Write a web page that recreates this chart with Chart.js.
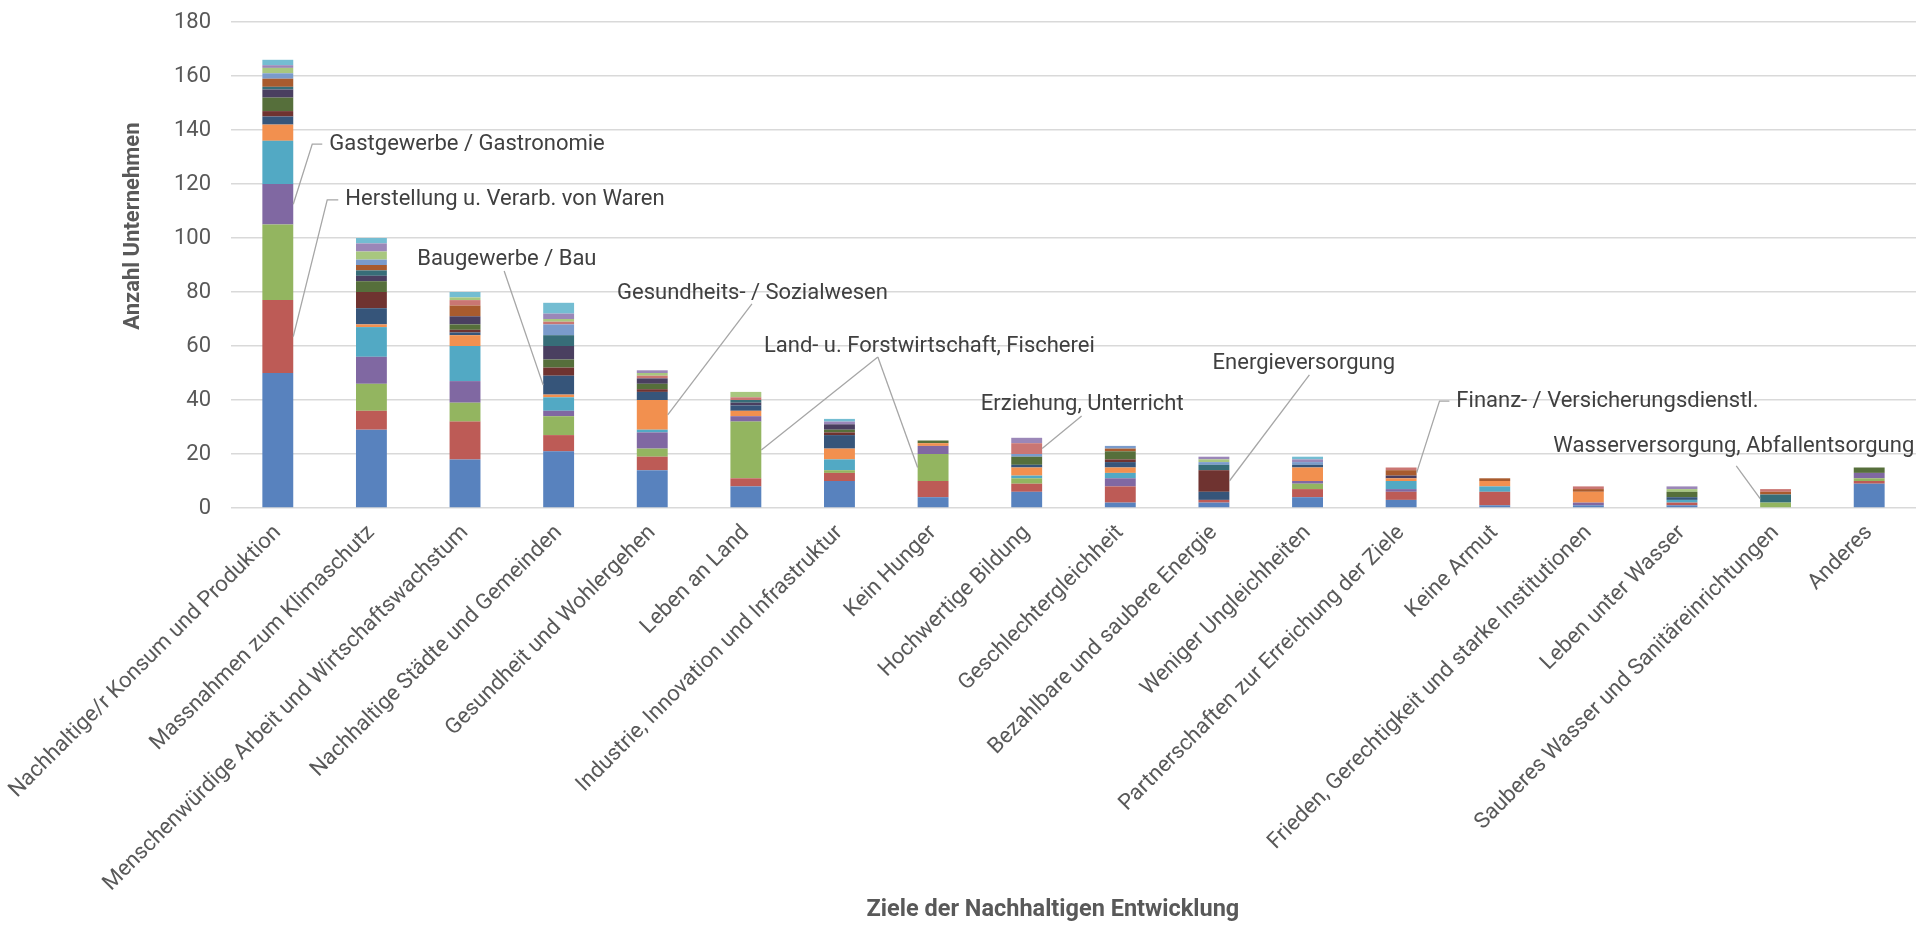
<!DOCTYPE html>
<html>
<head>
<meta charset="utf-8">
<script src="https://cdn.jsdelivr.net/npm/chart.js@4.4.1/dist/chart.umd.min.js"></script>
<style>
  html, body { margin: 0; padding: 0; background: #fff; }
</style>
</head>
<body>
<canvas id="chart" width="1916" height="928"></canvas>
<script>
// Ziele der Nachhaltigen Entwicklung (x axis)
const categories = [
  'Nachhaltige/r Konsum und Produktion',
  'Massnahmen zum Klimaschutz',
  'Menschenwürdige Arbeit und Wirtschaftswachstum',
  'Nachhaltige Städte und Gemeinden',
  'Gesundheit und Wohlergehen',
  'Leben an Land',
  'Industrie, Innovation und Infrastruktur',
  'Kein Hunger',
  'Hochwertige Bildung',
  'Geschlechtergleichheit',
  'Bezahlbare und saubere Energie',
  'Weniger Ungleichheiten',
  'Partnerschaften zur Erreichung der Ziele',
  'Keine Armut',
  'Frieden, Gerechtigkeit und starke Institutionen',
  'Leben unter Wasser',
  'Sauberes Wasser und Sanitäreinrichtungen',
  'Anderes'
];

// one array per industry (stack order bottom -> top)
const branche01     = [50, 29, 18, 21, 14,  8, 10,  4,  6,  2,  2,  4,  3,  1,  1,  1,  0,  9];
const herstellung   = [27,  7, 14,  6,  5,  3,  3,  6,  3,  6,  1,  3,  3,  5,  0,  1,  0,  1];
const landForst     = [28, 10,  7,  7,  3, 21,  1, 10,  2,  0,  0,  2,  0,  0,  0,  0,  2,  1];
const gastgewerbe   = [15, 10,  8,  2,  6,  2,  0,  3,  0,  3,  0,  1,  1,  0,  1,  0,  0,  2];
const branche05     = [16, 11, 13,  5,  1,  0,  4,  0,  1,  2,  0,  0,  3,  2,  0,  1,  0,  0];
const gesundheit    = [ 6,  1,  4,  1, 11,  2,  4,  1,  3,  2,  0,  5,  1,  2,  4,  0,  0,  0];
const baugewerbe    = [ 3,  6,  1,  7,  3,  2,  5,  0,  1,  2,  3,  1,  0,  0,  0,  1,  0,  0];
const energie       = [ 2,  6,  1,  3,  1,  0,  1,  0,  0,  1,  8,  0,  0,  0,  0,  0,  0,  0];
const branche09     = [ 5,  4,  2,  3,  2,  0,  1,  1,  3,  3,  0,  0,  0,  0,  0,  2,  0,  2];
const branche10     = [ 3,  2,  3,  5,  2,  1,  2,  0,  0,  0,  0,  0,  1,  0,  0,  0,  0,  0];
const wasser        = [ 1,  2,  0,  4,  0,  1,  0,  0,  0,  0,  2,  0,  0,  0,  0,  0,  3,  0];
const finanz        = [ 3,  2,  4,  0,  0,  0,  0,  0,  0,  1,  0,  0,  2,  1,  1,  0,  1,  0];
const branche13     = [ 2,  2,  0,  4,  0,  0,  0,  0,  1,  1,  1,  1,  0,  0,  0,  0,  0,  0];
const erziehung     = [ 0,  0,  2,  1,  1,  1,  0,  0,  4,  0,  0,  0,  1,  0,  1,  0,  1,  0];
const branche15     = [ 2,  3,  1,  1,  1,  2,  0,  0,  0,  0,  1,  0,  0,  0,  0,  1,  0,  0];
const branche16     = [ 1,  3,  0,  2,  1,  0,  1,  0,  2,  0,  1,  1,  0,  0,  0,  1,  0,  0];
const branche17     = [ 2,  2,  2,  4,  0,  0,  1,  0,  0,  0,  0,  1,  0,  0,  0,  0,  0,  0];

const seriesNames = [
  'Branche 1', 'Herstellung u. Verarb. von Waren', 'Land- u. Forstwirtschaft, Fischerei',
  'Gastgewerbe / Gastronomie', 'Branche 5', 'Gesundheits- / Sozialwesen', 'Baugewerbe / Bau',
  'Energieversorgung', 'Branche 9', 'Branche 10', 'Wasserversorgung, Abfallentsorgung',
  'Finanz- / Versicherungsdienstl.', 'Branche 13', 'Erziehung, Unterricht', 'Branche 15',
  'Branche 16', 'Branche 17'
];
const seriesValues = [
  branche01, herstellung, landForst, gastgewerbe, branche05, gesundheit, baugewerbe,
  energie, branche09, branche10, wasser, finanz, branche13, erziehung, branche15,
  branche16, branche17
];
const seriesColors = [
  '#5882BE', '#BD5B56', '#93B560', '#8068A2', '#52A9C4', '#F2904F',
  '#36557A', '#6F3330', '#566F3B', '#4A3F60', '#376D78', '#A85B2E',
  '#7A9BCB', '#CA7673', '#A8C77F', '#9B87B8', '#74BDD2'
];

const yTicks = { min: 0, max: 180, step: 20 };
const yTitle = 'Anzahl Unternehmen';
const xTitle = 'Ziele der Nachhaltigen Entwicklung';

// callout labels: series index, bar(s) pointed at, text anchor and leader path (data units)
const callouts = [
  { series: 3,  targets: [{ cat: 0, side: 'right' }], tx: 0.55,  ty: 134.8, path: [[0.368, 134.8], [0.475, 134.8]] },
  { series: 1,  targets: [{ cat: 0, side: 'right' }], tx: 0.721, ty: 114.1, path: [[0.528, 114.1], [0.646, 114.1]] },
  { series: 6,  targets: [{ cat: 3, side: 'left' }],  tx: 1.489, ty: 92.2,  path: [[2.418, 87.8]] },
  { series: 5,  targets: [{ cat: 4, side: 'right' }], tx: 3.624, ty: 79.6,  path: [[5.065, 75.6]] },
  { series: 2,  targets: [{ cat: 5, side: 'right' }, { cat: 7, side: 'left' }], tx: 5.193, ty: 60, path: [[6.41, 55.9]] },
  { series: 13, targets: [{ cat: 8, side: 'right' }], tx: 7.51,  ty: 38.5,  path: [[8.587, 34.1]] },
  { series: 7,  targets: [{ cat: 10, side: 'right' }], tx: 9.986, ty: 53.7, path: [[11.02, 49.3]] },
  { series: 11, targets: [{ cat: 12, side: 'right' }], tx: 12.59, ty: 39.6, path: [[12.41, 39.6], [12.516, 39.6]] },
  { series: 10, targets: [{ cat: 16, side: 'left' }], tx: 13.626, ty: 22.6, path: [[15.58, 15.6]] }
];

const FONT = 'Roboto, sans-serif';
const FS = 22;

Chart.defaults.font.family = FONT;
Chart.defaults.color = '#595959';

const calloutPlugin = {
  id: 'callouts',
  afterDatasetsDraw(chart) {
    const { ctx, scales: { x, y } } = chart;
    ctx.save();
    ctx.strokeStyle = '#A6A6A6';
    ctx.lineWidth = 1.3;
    ctx.fillStyle = '#404040';
    ctx.font = `${FS}px ${FONT}`;
    ctx.textBaseline = 'middle';
    ctx.textAlign = 'left';
    callouts.forEach(c => {
      const meta = chart.getDatasetMeta(c.series);
      c.targets.forEach(t => {
        const p = meta.data[t.cat].getProps(['x', 'y', 'base', 'width'], true);
        const sx = t.side === 'right' ? p.x + p.width / 2 : p.x - p.width / 2;
        ctx.beginPath();
        ctx.moveTo(sx, (p.y + p.base) / 2);
        c.path.forEach(([px, py]) => ctx.lineTo(x.getPixelForValue(px), y.getPixelForValue(py)));
        ctx.stroke();
      });
      ctx.fillText(seriesNames[c.series], x.getPixelForValue(c.tx), y.getPixelForValue(c.ty));
    });

    // axis titles
    ctx.fillStyle = '#595959';
    ctx.textAlign = 'center';
    ctx.font = `bold 23.5px ${FONT}`;
    ctx.fillText(xTitle, x.getPixelForValue(8.28), 910);
    ctx.font = `bold ${FS}px ${FONT}`;
    ctx.translate(133, y.getPixelForValue(104.4));
    ctx.rotate(-Math.PI / 2);
    ctx.fillText(yTitle, 0, 0);
    ctx.restore();
  }
};

const datasets = seriesValues.map((values, i) => ({
  label: seriesNames[i],
  data: values,
  backgroundColor: seriesColors[i],
  borderWidth: 0,
  barPercentage: 0.33,
  categoryPercentage: 1.0
}));

new Chart(document.getElementById('chart'), {
  type: 'bar',
  data: { labels: categories, datasets },
  options: {
    responsive: false,
    animation: false,
    devicePixelRatio: 1,
    layout: { padding: { top: 22, right: 0, bottom: 0, left: 0 } },
    plugins: { legend: { display: false }, tooltip: { enabled: false } },
    scales: {
      x: {
        stacked: true,
        grid: { display: false },
        border: { display: false },
        ticks: { minRotation: 45, maxRotation: 45, autoSkip: false, padding: 4, font: { size: FS } },
        afterFit: s => { s.height = 420; s.paddingLeft = 0; s.paddingRight = 0; }
      },
      y: {
        stacked: true,
        min: yTicks.min,
        max: yTicks.max,
        ticks: { stepSize: yTicks.step, padding: 20, font: { size: FS } },
        grid: { color: '#D9D9D9', lineWidth: 1.5, drawTicks: false },
        border: { display: false },
        afterFit: s => { s.width = 231; s.paddingTop = 0; s.paddingBottom = 0; }
      }
    }
  },
  plugins: [calloutPlugin]
});
</script>
</body>
</html>
